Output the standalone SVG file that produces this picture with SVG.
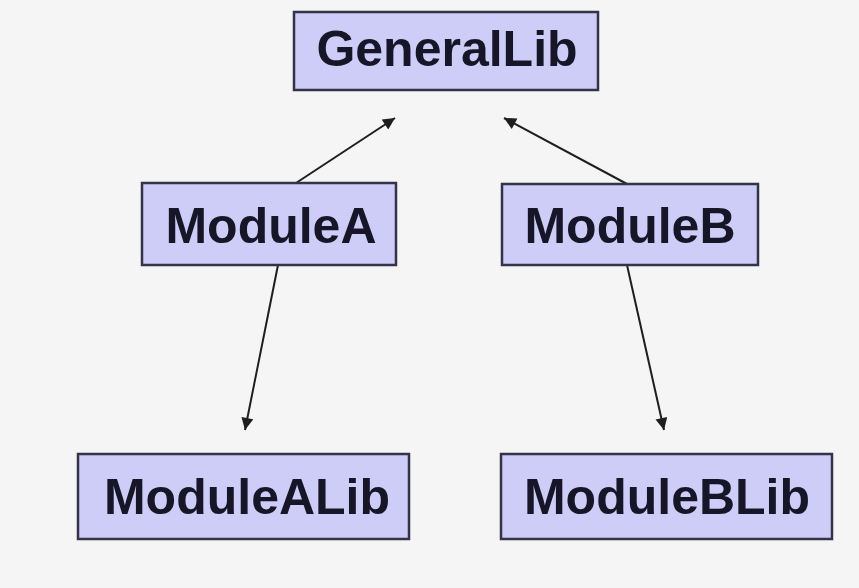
<svg xmlns="http://www.w3.org/2000/svg" width="859" height="588" viewBox="0 0 859 588">
<style>
.box{fill:#cdcdf7;stroke:#33334a;stroke-width:2.5}
.lbl{font-family:"Liberation Sans",Arial,sans-serif;font-weight:bold;font-size:50px;fill:#161628;text-anchor:middle}
.edge{stroke:#1e1e1e;stroke-width:2;fill:none;marker-end:url(#ah)}
</style>
<defs>
<marker id="ah" viewBox="0 0 10 10" refX="10" refY="5" markerWidth="15" markerHeight="12" markerUnits="userSpaceOnUse" orient="auto">
<path d="M0,0 L10,5 L0,10 z" fill="#1e1e1e"/>
</marker>
</defs>
<rect x="0" y="0" width="859" height="588" fill="#f5f5f5"/>
<g id="connectors">
<line class="edge" x1="296" y1="183" x2="395" y2="118"/>
<line class="edge" x1="627" y1="184" x2="504" y2="118"/>
<line class="edge" x1="278" y1="265" x2="245" y2="430"/>
<line class="edge" x1="627" y1="265" x2="664" y2="430"/>
</g>
<g id="GeneralLib">
<rect class="box" x="294" y="12" width="304" height="78"/>
<text class="lbl" x="447" y="66">GeneralLib</text>
</g>
<g id="ModuleA">
<rect class="box" x="142" y="183" width="254" height="82"/>
<text class="lbl" x="271" y="243">ModuleA</text>
</g>
<g id="ModuleB">
<rect class="box" x="502" y="184" width="256" height="81"/>
<text class="lbl" x="630" y="243">ModuleB</text>
</g>
<g id="ModuleALib">
<rect class="box" x="78" y="454" width="331" height="85"/>
<text class="lbl" x="247" y="514">ModuleALib</text>
</g>
<g id="ModuleBLib">
<rect class="box" x="501" y="454" width="331" height="85"/>
<text class="lbl" x="667" y="514">ModuleBLib</text>
</g>
</svg>
